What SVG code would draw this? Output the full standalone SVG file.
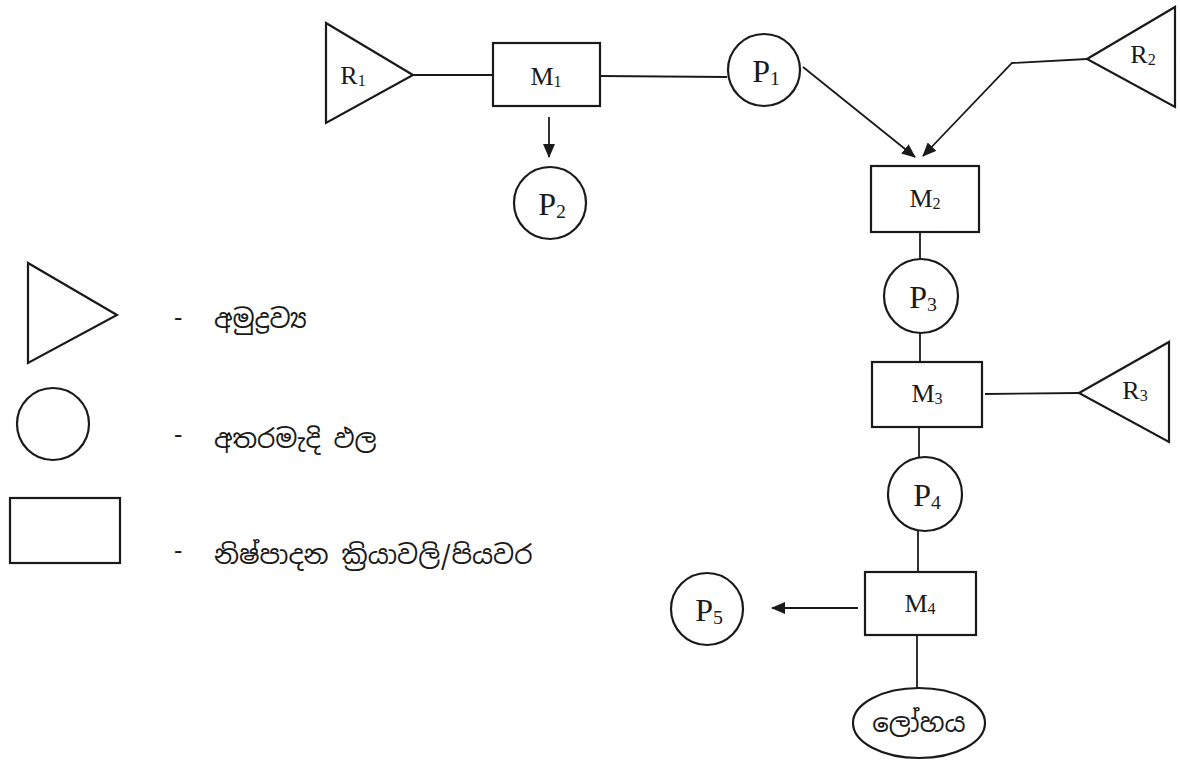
<svg xmlns="http://www.w3.org/2000/svg" width="1180" height="763" viewBox="0 0 1180 763">
<style>
.s{fill:none;stroke:#1a1a1a;stroke-width:2.2}
.c{fill:none;stroke:#1a1a1a;stroke-width:1.8}
.t{font-family:"Liberation Serif","Times New Roman",serif;fill:#1a1a1a;text-anchor:middle}
.m{font-size:26px}
.p{font-size:32px}
.r{font-size:26px}
.sub{font-size:0.62em}
.si{font-family:"Noto Sans Sinhala","Noto Serif Sinhala","Iskoola Pota","Noto Sans",sans-serif;fill:#1a1a1a;font-size:26px}
</style>
<defs>
<marker id="ah" markerWidth="14" markerHeight="12" refX="13" refY="6" orient="auto" markerUnits="userSpaceOnUse" viewBox="0 0 14 12">
<path d="M0,0 L14,6 L0,12 z" fill="#1a1a1a"/>
</marker>
</defs>
<rect width="1180" height="763" fill="#ffffff"/>

<g id="connectors">
<line class="c" x1="413" y1="75" x2="493" y2="75"/>
<line class="c" x1="600" y1="76" x2="727" y2="77"/>
<line class="c" x1="549" y1="117" x2="549" y2="157" marker-end="url(#ah)"/>
<line class="c" x1="803" y1="67" x2="915" y2="157" marker-end="url(#ah)"/>
<polyline class="c" points="1087,59 1012,63 923,156" marker-end="url(#ah)"/>
<line class="c" x1="920" y1="232" x2="920" y2="259"/>
<line class="c" x1="920" y1="333" x2="920" y2="362"/>
<line class="c" x1="985" y1="394" x2="1079" y2="393"/>
<line class="c" x1="919" y1="427" x2="919" y2="457"/>
<line class="c" x1="918" y1="531" x2="918" y2="572"/>
<line class="c" x1="858" y1="608" x2="772" y2="608" marker-end="url(#ah)"/>
<line class="c" x1="917" y1="635" x2="917" y2="689"/>
</g>

<g id="R1">
<polygon class="s" points="326,23 326,123 413,75"/>
<text class="t r" x="353" y="84">R<tspan class="sub" dy="2">1</tspan></text>
</g>
<g id="M1">
<rect class="s" x="493" y="43" width="107" height="63"/>
<text class="t m" x="546" y="85">M<tspan class="sub" dy="2">1</tspan></text>
</g>
<g id="P1">
<circle class="s" cx="764" cy="70" r="36"/>
<text class="t p" x="766" y="82">P<tspan class="sub" dy="3">1</tspan></text>
</g>
<g id="P2">
<circle class="s" cx="550" cy="203" r="36"/>
<text class="t p" x="552" y="215">P<tspan class="sub" dy="3">2</tspan></text>
</g>
<g id="R2">
<polygon class="s" points="1087,59 1175,7 1175,107"/>
<text class="t r" x="1143" y="63">R<tspan class="sub" dy="2">2</tspan></text>
</g>
<g id="M2">
<rect class="s" x="871" y="166" width="108" height="66"/>
<text class="t m" x="925" y="207">M<tspan class="sub" dy="2">2</tspan></text>
</g>
<g id="P3">
<circle class="s" cx="921" cy="296" r="37"/>
<text class="t p" x="923" y="308">P<tspan class="sub" dy="3">3</tspan></text>
</g>
<g id="M3">
<rect class="s" x="872" y="362" width="110" height="65"/>
<text class="t m" x="927" y="402">M<tspan class="sub" dy="2">3</tspan></text>
</g>
<g id="R3">
<polygon class="s" points="1079,393 1169,342 1169,442"/>
<text class="t r" x="1135" y="399">R<tspan class="sub" dy="2">3</tspan></text>
</g>
<g id="P4">
<circle class="s" cx="925" cy="494" r="37"/>
<text class="t p" x="927" y="506">P<tspan class="sub" dy="3">4</tspan></text>
</g>
<g id="M4">
<rect class="s" x="865" y="572" width="111" height="63"/>
<text class="t m" x="920" y="612">M<tspan class="sub" dy="2">4</tspan></text>
</g>
<g id="P5">
<circle class="s" cx="707" cy="609" r="36"/>
<text class="t p" x="709" y="621">P<tspan class="sub" dy="3">5</tspan></text>
</g>
<g id="metal">
<ellipse class="s" cx="919" cy="723" rx="66" ry="35"/>
<text class="si" x="919" y="732" text-anchor="middle">ලෝහය</text>
</g>

<g id="legend-raw">
<polygon class="s" points="28,263 28,363 117,315"/>
<text class="si" x="174" y="327">-</text>
<text class="si" x="214" y="328">අමුද්‍රව්‍ය</text>
</g>
<g id="legend-intermediate">
<circle class="s" cx="53" cy="424" r="36"/>
<text class="si" x="174" y="444">-</text>
<text class="si" x="214" y="448">අතරමැදි ඵල</text>
</g>
<g id="legend-process">
<rect class="s" x="10" y="498" width="110" height="65"/>
<text class="si" x="174" y="560">-</text>
<text class="si" x="214" y="564">නිෂ්පාදන ක්‍රියාවලි/පියවර</text>
</g>
</svg>
